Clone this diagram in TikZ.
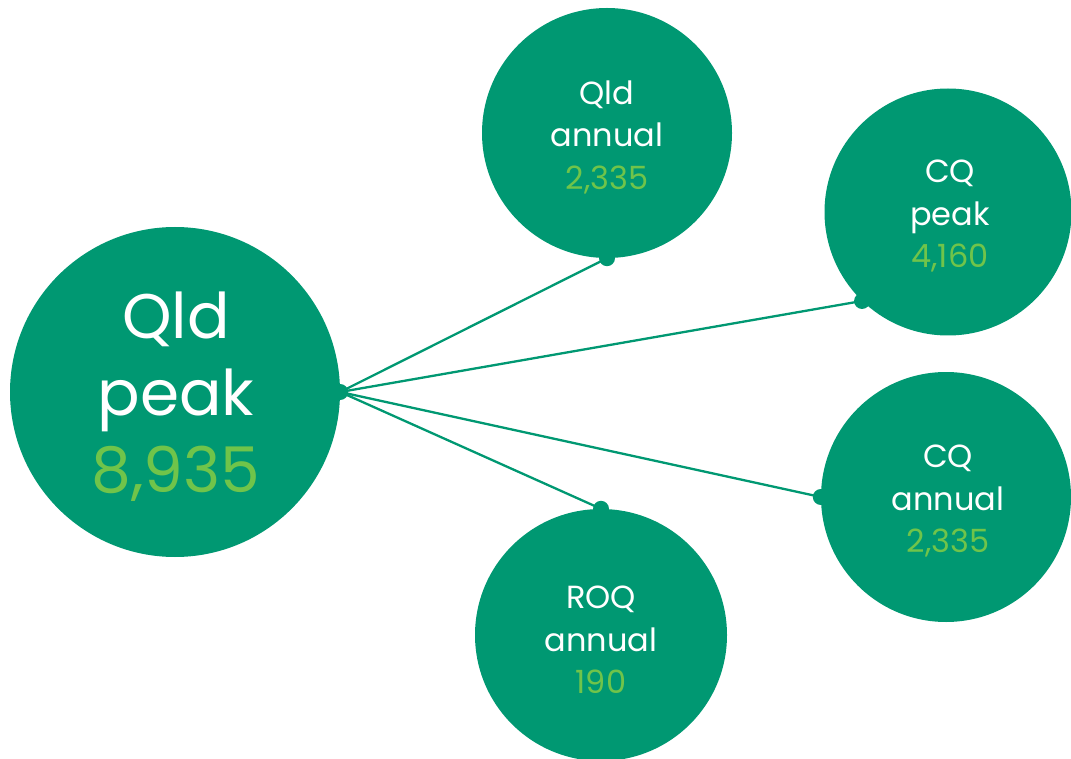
\documentclass[tikz,border=0pt]{standalone}
\usepackage{fontspec}
\setmainfont{Poppins}
\definecolor{bubble}{RGB}{0,152,114}
\definecolor{figure}{RGB}{112,196,74}
\begin{document}
\begin{tikzpicture}[x=1pt,y=-1pt,
  bubble/.style={circle,fill=bubble,inner sep=0pt,minimum size=#1},
  label/.style={text=white,align=center,inner sep=0pt},
  link/.style={draw=bubble,line width=2.3pt},
  dot/.style={fill=bubble}]
\useasboundingbox (0,0) rectangle (1071,759);
% bubbles
\node[bubble=330pt] (qp) at (175,392) {};
\node[bubble=250pt] (qa) at (607,133) {};
\node[bubble=247pt] (cp) at (948,212) {};
\node[bubble=250pt] (ca) at (946,497) {};
\node[bubble=252pt] (ra) at (601,635) {};
% labels
\node[label,font=\fontsize{63}{77}\selectfont] at (176,397) {Qld\\peak\\\textcolor{figure}{8,935}};
\node[label,font=\fontsize{32}{42.5}\selectfont] at (607,137) {Qld\\annual\\\textcolor{figure}{2,335}};
\node[label,font=\fontsize{32}{42.5}\selectfont] at (950,216) {CQ\\peak\\\textcolor{figure}{4,160}};
\node[label,font=\fontsize{32}{42.5}\selectfont] at (948,501) {CQ\\annual\\\textcolor{figure}{2,335}};
\node[label,font=\fontsize{32}{42.5}\selectfont] at (601,640) {ROQ\\annual\\\textcolor{figure}{190}};
% connection points
\coordinate (s) at (qp.east);
\coordinate (t1) at (qa.south);
\coordinate (t2) at (cp.226);
\coordinate (t3) at (ca.west);
\coordinate (t4) at (ra.north);
\draw[link] (s) -- (t1);
\draw[link] (s) -- (t2);
\draw[link] (s) -- (t3);
\draw[link] (s) -- (t4);
\foreach \p in {s,t1,t2,t3,t4} \fill[dot] (\p) circle (8pt);
\end{tikzpicture}
\end{document}
